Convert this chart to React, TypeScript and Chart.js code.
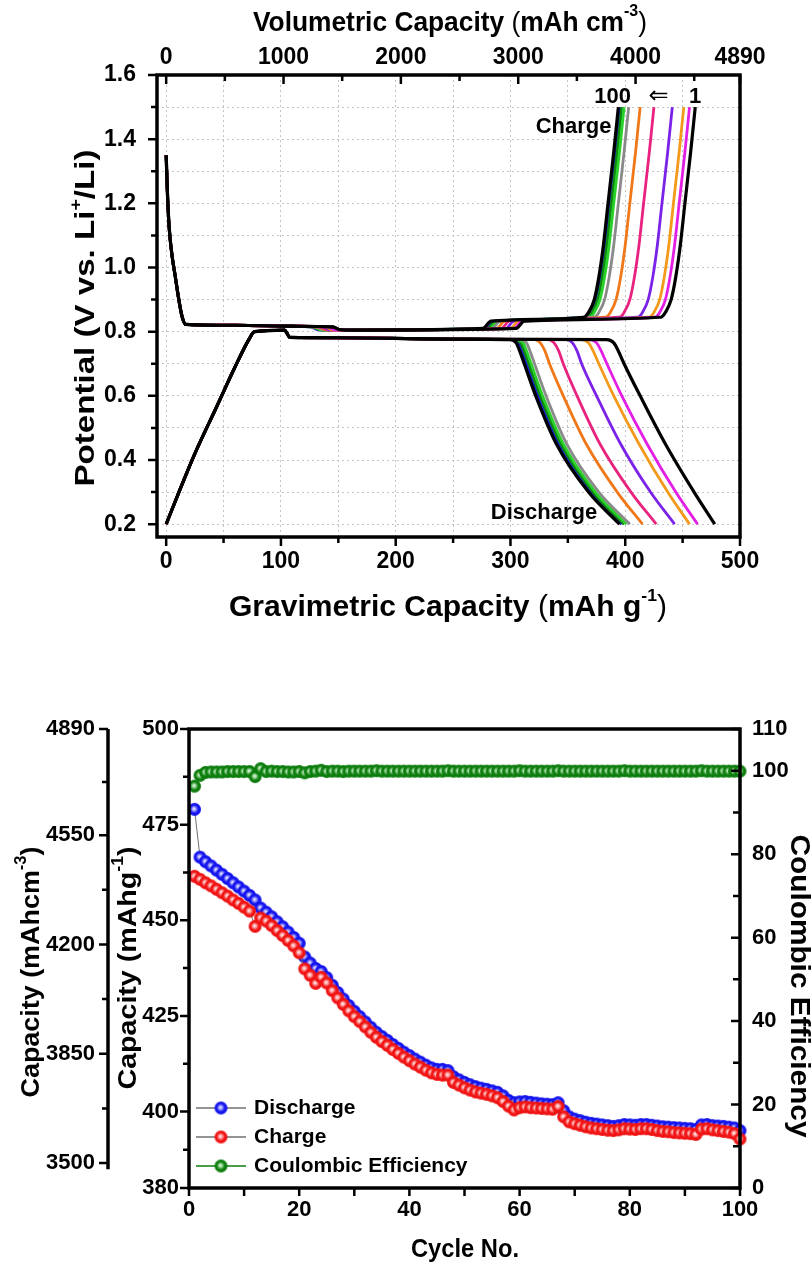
import React, { useEffect, useRef } from 'react';
import { Chart, registerables } from 'chart.js';

Chart.register(...registerables);

const FONT = '"Liberation Sans", Arial, "DejaVu Sans", sans-serif';

/* ================= Top panel: voltage profiles ================= */
const GRAV_MIN = -8;
const GRAV_MAX = 500;
const VOL_MAX = 4890;
const POT_MIN = 0.16;
const POT_MAX = 1.6;

// drawing order: first = on top
const cycleNames = ['1', '100', '2', '5', '10', '20', '30', '40', '50', '60', '70', '80'];
const cycleColors = ['#000000', '#000000', '#e41fe4', '#f39a1c', '#7b22e8', '#e8237f', '#f07818', '#8a8a8a', '#2bd12b', '#0d8a0d', '#1b1bd0', '#c490f2'];

// common start of every discharge curve [capacity mAh/g, potential V]
const dischargeHead = [[0, 0.2], [10, 0.29], [25, 0.42], [44, 0.566], [60, 0.69], [72, 0.775], [77, 0.8], [103, 0.805], [108, 0.782], [150, 0.781], [250, 0.777]];
// potentials at which the discharge tails were read
const dischargeTailV = [0.775, 0.765, 0.74, 0.7, 0.6, 0.45, 0.3, 0.2];
// capacities of each cycle's discharge tail at those potentials
const dischargeTailX = [
  [384, 390, 394, 399, 413, 435, 460, 478],
  [300, 305, 308, 312, 322, 340, 368, 395],
  [369, 375, 379, 384, 397, 419, 444, 463],
  [362, 368, 372, 377, 390, 412, 437, 456],
  [349, 354, 358, 362, 375, 396, 422, 443],
  [333, 338, 342, 346, 358, 378, 405, 427],
  [321, 326, 330, 334, 346, 366, 393, 415],
  [309, 314, 317, 321, 331, 349, 377, 404],
  [306, 311, 314, 318, 328, 346, 374, 401],
  [304, 309, 312, 316, 326, 344, 372, 399],
  [302, 307, 310, 314, 324, 342, 370, 397],
  [301, 306, 309, 313, 323, 341, 369, 396],
];

// common start of every charge curve
const chargeHead = [[0, 1.35], [1, 1.24], [2.5, 1.13], [5, 1.04], [8, 0.97], [11, 0.9], [14, 0.845], [17, 0.823], [60, 0.82], [110, 0.817]];
const chargeMidV = [0.815, 0.806, 0.805, 0.81, 0.833];
const chargeMidX = [
  [145, 152, 170, 305, 312],
  [145, 152, 170, 276, 283],
  [140, 147, 165, 303, 310],
  [138, 145, 163, 300, 307],
  [136, 143, 161, 296, 303],
  [134, 141, 159, 292, 299],
  [132, 139, 157, 288, 295],
  [130, 137, 155, 284, 291],
  [128, 135, 153, 282, 289],
  [127, 134, 152, 280, 287],
  [126, 133, 151, 279, 286],
  [125, 132, 150, 278, 285],
];
const chargeTailV = [0.845, 0.86, 0.9, 0.97, 1.07, 1.2, 1.36, 1.5];
const chargeTailX = [
  [431, 435, 440, 444, 448, 452, 457, 461],
  [364, 368, 373, 377, 381, 385, 390, 394],
  [426, 430, 435, 439, 443, 447, 452, 456],
  [421, 425, 430, 434, 438, 442, 447, 451],
  [411, 415, 420, 424, 428, 432, 437, 441],
  [395, 399, 404, 408, 412, 416, 421, 425],
  [383, 387, 392, 396, 400, 404, 409, 413],
  [373, 377, 382, 386, 390, 394, 399, 403],
  [369, 373, 378, 382, 386, 390, 395, 399],
  [367, 371, 376, 380, 384, 388, 393, 397],
  [366, 370, 375, 379, 383, 387, 392, 396],
  [365, 369, 374, 378, 382, 386, 391, 395],
];

const gravTicks = [0, 50, 100, 150, 200, 250, 300, 350, 400, 450, 500];
const gravLabels = [0, 100, 200, 300, 400, 500];
const volTicks = [0, 500, 1000, 1500, 2000, 2500, 3000, 3500, 4000, 4500, 4890];
const volLabels = [0, 1000, 2000, 3000, 4000, 4890];
const potentialTicks = [0.2, 0.3, 0.4, 0.5, 0.6, 0.7, 0.8, 0.9, 1.0, 1.1, 1.2, 1.3, 1.4, 1.5, 1.6];
const potentialLabels = [0.2, 0.4, 0.6, 0.8, 1.0, 1.2, 1.4, 1.6];

const topNotes = [
  { text: '100', x: 389, y: 1.531, align: 'center', font: `bold 22px ${FONT}` },
  { text: '\u21D0', x: 429, y: 1.531, align: 'center', font: `normal 24px "DejaVu Sans", sans-serif` },
  { text: '1', x: 461, y: 1.531, align: 'center', font: `bold 22px ${FONT}` },
  { text: 'Charge', x: 388, y: 1.438, align: 'right', font: `bold 22px ${FONT}` },
  { text: 'Discharge', x: 375.6, y: 0.235, align: 'right', font: `bold 22px ${FONT}` },
];

/* ================= Bottom panel: cycling ================= */
const cycles = Array.from({ length: 100 }, (_, i) => i + 1);
const dischargeCap = [
  479.0, 466.5, 465.3, 464.2, 463.1, 462.0, 460.9, 459.8, 458.7, 457.6,
  456.5, 455.3, 453.2, 452.1, 450.9, 449.6, 448.3, 446.9, 445.5, 444.0,
  440.4, 438.8, 437.4, 436.6, 435.0, 433.0, 431.1, 429.4, 427.7, 426.2,
  424.8, 423.4, 422.0, 420.7, 419.6, 418.6, 417.5, 416.5, 415.5, 414.6,
  413.7, 412.9, 412.1, 411.4, 411.0, 411.0, 410.7, 409.1, 408.3, 407.6,
  407.0, 406.5, 406.1, 405.8, 405.4, 405.0, 404.1, 402.9, 402.3, 402.5,
  402.6, 402.4, 402.2, 402.0, 401.9, 401.8, 402.3, 400.2, 398.6, 398.0,
  397.6, 397.2, 396.9, 396.7, 396.5, 396.3, 396.1, 396.3, 396.6, 396.5,
  396.4, 396.6, 396.6, 396.4, 396.2, 396.0, 395.9, 395.8, 395.7, 395.6,
  395.5, 395.3, 396.5, 396.6, 396.3, 396.2, 396.1, 395.9, 395.7, 395.0,
];
const chargeCap = [
  461.5, 460.7, 459.8, 459.0, 458.1, 457.2, 456.3, 455.3, 454.4, 453.4,
  452.4, 448.4, 450.6, 449.8, 448.6, 447.3, 446.0, 444.7, 443.3, 441.5,
  437.3, 435.6, 433.5, 435.1, 433.6, 431.6, 429.7, 428.0, 426.3, 424.8,
  423.5, 422.1, 420.7, 419.4, 418.3, 417.3, 416.2, 415.2, 414.2, 413.3,
  412.4, 411.6, 410.8, 410.1, 409.7, 409.5, 409.5, 407.6, 406.9, 406.2,
  405.6, 405.1, 404.8, 404.5, 404.1, 403.6, 402.6, 401.4, 400.4, 401.0,
  401.2, 401.0, 400.9, 400.8, 400.7, 400.6, 401.3, 398.6, 397.3, 396.8,
  396.4, 396.0, 395.7, 395.5, 395.3, 395.1, 395.0, 395.2, 395.5, 395.4,
  395.3, 395.5, 395.5, 395.3, 395.0, 394.8, 394.7, 394.5, 394.4, 394.3,
  394.2, 394.0, 395.4, 395.5, 395.2, 395.0, 394.8, 394.6, 394.2, 392.8,
];
const coulombicEff = [
  96.3, 98.9, 99.6, 99.7, 99.7, 99.7, 99.8, 99.8, 99.8, 99.8,
  99.8, 98.6, 100.5, 99.8, 99.9, 99.8, 99.8, 99.7, 99.7, 99.8,
  99.5, 99.8, 99.9, 100.1, 99.8, 99.9, 99.9, 99.8, 99.9, 99.9,
  99.9, 99.9, 99.9, 100.0, 99.9, 99.9, 99.9, 99.9, 99.9, 99.9,
  99.9, 99.9, 99.9, 99.9, 99.9, 99.9, 100.0, 99.9, 99.9, 99.9,
  99.9, 99.9, 99.9, 99.9, 99.9, 99.9, 99.9, 99.9, 99.9, 100.0,
  99.9, 99.9, 99.9, 99.9, 99.9, 99.9, 100.0, 99.9, 99.9, 99.9,
  99.9, 99.9, 99.9, 99.9, 99.9, 99.9, 99.9, 99.9, 100.0, 99.9,
  99.9, 99.9, 99.9, 99.9, 99.9, 99.9, 99.9, 99.9, 99.9, 99.9,
  99.9, 99.9, 100.0, 99.9, 99.9, 99.9, 99.9, 99.9, 99.9, 99.9,
];

const cycleTicks = [0, 10, 20, 30, 40, 50, 60, 70, 80, 90, 100];
const cycleLabels = [0, 20, 40, 60, 80, 100];
const capTicks = [380, 390, 400, 412.5, 425, 437.5, 450, 462.5, 475, 487.5, 500];
const capLabels = [380, 400, 425, 450, 475, 500];
const volCapTicks = [3500, 3675, 3850, 4025, 4200, 4375, 4550, 4720, 4890];
const volCapLabels = [3500, 3850, 4200, 4550, 4890];
const VOLCAP_MIN = 3420;
const VOLCAP_AXIS_END = 3480;
const ceTicks = [0, 10, 20, 30, 40, 50, 60, 70, 80, 90, 100, 110];
const ceLabels = [0, 20, 40, 60, 80, 100, 110];

/* ================= helpers ================= */
const inList = (list: number[], v: number) => list.some((l) => Math.abs(l - v) < 1e-6);

type Part = { t: string; sup?: boolean; light?: boolean };
function drawRich(ctx: CanvasRenderingContext2D, parts: Part[], cx: number, cy: number, angle: number, size: number, targetLen: number) {
  ctx.save();
  ctx.translate(cx, cy);
  ctx.rotate(angle);
  const fontFor = (p: Part) => `${p.light ? 'normal' : 'bold'} ${p.sup ? Math.round(size * 0.6) : size}px ${FONT}`;
  let w = 0;
  const widths = parts.map((p) => {
    ctx.font = fontFor(p);
    const m = ctx.measureText(p.t).width;
    w += m;
    return m;
  });
  ctx.scale(targetLen / w, 1);
  ctx.textBaseline = 'middle';
  ctx.textAlign = 'left';
  ctx.fillStyle = '#000';
  let x = -w / 2;
  parts.forEach((p, i) => {
    ctx.font = fontFor(p);
    ctx.fillText(p.t, x, p.sup ? -size * 0.4 : 0);
    x += widths[i];
  });
  ctx.restore();
}

function makeSphere(base: string, mid: string, r: number): HTMLCanvasElement {
  const size = Math.ceil(r * 2) + 2;
  const c = document.createElement('canvas');
  c.width = size;
  c.height = size;
  const g = c.getContext('2d')!;
  const cx = size / 2;
  const cy = size / 2;
  const grad = g.createRadialGradient(cx - r * 0.1, cy - r * 0.1, 0, cx, cy, r);
  grad.addColorStop(0, '#ffffff');
  grad.addColorStop(0.28, mid);
  grad.addColorStop(0.62, base);
  grad.addColorStop(1, base);
  g.fillStyle = grad;
  g.beginPath();
  g.arc(cx, cy, r, 0, Math.PI * 2);
  g.fill();
  return c;
}

const tickFont = (size: number) => ({ family: FONT, size, weight: 'bold' as const });

/* ================= configs ================= */
function topConfig(): any {
  const datasets: any[] = [];
  cycleNames.forEach((name, i) => {
    const dis = dischargeHead.concat(dischargeTailX[i].map((x, j) => [x, dischargeTailV[j]]));
    const chg = chargeHead
      .concat(chargeMidX[i].map((x, j) => [x, chargeMidV[j]]))
      .concat(chargeTailX[i].map((x, j) => [x, chargeTailV[j]]));
    const common = {
      borderColor: cycleColors[i],
      borderWidth: cycleColors[i] === '#000000' ? 3.2 : 2.8,
      pointRadius: 0,
      fill: false,
      cubicInterpolationMode: 'monotone',
      xAxisID: 'x',
      yAxisID: 'y',
    };
    datasets.push({ label: `Discharge ${name}`, data: dis.map(([x, y]) => ({ x, y })), ...common });
    datasets.push({ label: `Charge ${name}`, data: chg.map(([x, y]) => ({ x, y })), ...common });
  });

  const decor = {
    id: 'topDecor',
    afterDraw(chart: any) {
      const { ctx, chartArea: a, scales } = chart;
      ctx.save();
      ctx.strokeStyle = '#000';
      ctx.lineWidth = 2.5;
      ctx.beginPath();
      potentialTicks.forEach((v) => {
        const y = scales.y.getPixelForValue(v);
        const l = inList(potentialLabels, v) ? 9 : 6;
        ctx.moveTo(a.left - l, y);
        ctx.lineTo(a.left, y);
      });
      gravTicks.forEach((v) => {
        const x = scales.x.getPixelForValue(v);
        const l = inList(gravLabels, v) ? 9 : 6;
        ctx.moveTo(x, a.bottom);
        ctx.lineTo(x, a.bottom + l);
      });
      volTicks.forEach((v) => {
        const x = scales.x2.getPixelForValue(v);
        const l = inList(volLabels, v) ? 9 : 6;
        ctx.moveTo(x, a.top);
        ctx.lineTo(x, a.top + l);
      });
      ctx.stroke();
      ctx.lineWidth = 3.5;
      ctx.strokeRect(a.left, a.top, a.right - a.left, a.bottom - a.top);

      ctx.fillStyle = '#000';
      ctx.textBaseline = 'middle';
      topNotes.forEach((n) => {
        ctx.font = n.font;
        ctx.textAlign = n.align as CanvasTextAlign;
        ctx.fillText(n.text, scales.x.getPixelForValue(n.x), scales.y.getPixelForValue(n.y));
      });

      drawRich(ctx, [{ t: 'Volumetric Capacity ' }, { t: '(', light: true }, { t: 'mAh cm' }, { t: '-3', sup: true }, { t: ')', light: true }], 450, 23, 0, 28, 394);
      drawRich(ctx, [{ t: 'Gravimetric Capacity ' }, { t: '(', light: true }, { t: 'mAh g' }, { t: '-1', sup: true }, { t: ')', light: true }], 448, 608, 0, 29, 438);
      drawRich(ctx, [{ t: 'Potential (V vs. Li' }, { t: '+', sup: true }, { t: '/Li)' }], 87, 318, -Math.PI / 2, 27, 337);
      ctx.restore();
    },
  };

  const gridOpts = { display: true, drawTicks: false, color: '#c4c4c4', lineWidth: 1 };
  return {
    type: 'line',
    data: { datasets },
    plugins: [decor],
    options: {
      responsive: false,
      animation: false,
      devicePixelRatio: 1,
      layout: { padding: { left: 0, right: 71, top: 0, bottom: 0 } },
      plugins: { legend: { display: false }, tooltip: { enabled: false } },
      scales: {
        x: {
          type: 'linear', position: 'bottom', min: GRAV_MIN, max: GRAV_MAX,
          afterBuildTicks: (s: any) => { s.ticks = gravTicks.map((v) => ({ value: v })); },
          afterFit: (s: any) => { s.height = 113; },
          ticks: { autoSkip: false, maxRotation: 0, padding: 11, color: '#000', font: tickFont(23), callback: (v: number) => (inList(gravLabels, v) ? String(v) : '') },
          grid: gridOpts,
          border: { display: false, dash: [2, 3] },
        },
        x2: {
          type: 'linear', position: 'top', min: (GRAV_MIN * VOL_MAX) / GRAV_MAX, max: VOL_MAX,
          afterBuildTicks: (s: any) => { s.ticks = volTicks.map((v) => ({ value: v })); },
          afterFit: (s: any) => { s.height = 75; },
          ticks: { autoSkip: false, maxRotation: 0, padding: 4, color: '#000', font: tickFont(23), callback: (v: number) => (inList(volLabels, v) ? String(v) : '') },
          grid: { display: false, drawTicks: false },
          border: { display: false },
        },
        y: {
          type: 'linear', position: 'left', min: POT_MIN, max: POT_MAX,
          afterBuildTicks: (s: any) => { s.ticks = potentialTicks.map((v) => ({ value: v })); },
          afterFit: (s: any) => { s.width = 157; },
          ticks: { autoSkip: false, padding: 21, color: '#000', font: tickFont(23), callback: (v: number) => (inList(potentialLabels, v) ? v.toFixed(1) : '') },
          grid: gridOpts,
          border: { display: false, dash: [2, 3] },
        },
      },
    },
  };
}

function bottomConfig(): any {
  const blue = makeSphere('#1414ee', '#9c9cff', 6.5);
  const red = makeSphere('#f01414', '#ffa0a0', 6.5);
  const green = makeSphere('#0d7d0d', '#8fd48f', 6.5);

  const datasets = [
    { label: 'Charge', data: chargeCap, yAxisID: 'y', borderColor: '#707070', borderWidth: 1, pointStyle: red, pointRadius: 6.5, clip: false },
    { label: 'Discharge', data: dischargeCap, yAxisID: 'y', borderColor: '#707070', borderWidth: 1, pointStyle: blue, pointRadius: 6.5, clip: false },
    { label: 'Coulombic Efficiency', data: coulombicEff, yAxisID: 'yCE', borderColor: '#0d7d0d', borderWidth: 1, pointStyle: green, pointRadius: 6.5, clip: false },
  ];
  const legendOrder = ['Discharge', 'Charge', 'Coulombic Efficiency'];
  const legendRows = [448, 477, 506];

  const decor = {
    id: 'bottomDecor',
    afterDraw(chart: any) {
      const { ctx, chartArea: a, scales } = chart;
      ctx.save();
      ctx.strokeStyle = '#000';
      ctx.lineWidth = 2.5;
      ctx.beginPath();
      capTicks.forEach((v) => {
        const y = scales.y.getPixelForValue(v);
        const l = inList(capLabels, v) ? 9 : 6;
        ctx.moveTo(a.left - l, y);
        ctx.lineTo(a.left, y);
      });
      const xo = scales.yVol.right;
      volCapTicks.forEach((v) => {
        const y = scales.yVol.getPixelForValue(v);
        const l = inList(volCapLabels, v) ? 9 : 6;
        ctx.moveTo(xo - l, y);
        ctx.lineTo(xo, y);
      });
      ceTicks.forEach((v) => {
        const y = scales.yCE.getPixelForValue(v);
        const l = inList(ceLabels, v) ? 9 : 7;
        ctx.moveTo(a.right - l, y);
        ctx.lineTo(a.right, y);
      });
      cycleTicks.forEach((v) => {
        const x = scales.x.getPixelForValue(v);
        ctx.moveTo(x, a.bottom);
        ctx.lineTo(x, a.bottom + 8);
      });
      ctx.stroke();
      ctx.lineWidth = 3.5;
      ctx.beginPath();
      ctx.moveTo(xo, scales.yVol.getPixelForValue(VOL_MAX));
      ctx.lineTo(xo, scales.yVol.getPixelForValue(VOLCAP_AXIS_END));
      ctx.stroke();
      ctx.strokeRect(a.left, a.top, a.right - a.left, a.bottom - a.top);

      // legend
      legendOrder.forEach((name, i) => {
        const ds: any = chart.data.datasets.find((d: any) => d.label === name);
        const y = legendRows[i];
        ctx.strokeStyle = ds.borderColor;
        ctx.lineWidth = 1.5;
        ctx.beginPath();
        ctx.moveTo(196, y);
        ctx.lineTo(246, y);
        ctx.stroke();
        const img = ds.pointStyle as HTMLCanvasElement;
        ctx.drawImage(img, 221 - img.width / 2, y - img.height / 2);
        ctx.fillStyle = '#000';
        ctx.font = `bold 21px ${FONT}`;
        ctx.textAlign = 'left';
        ctx.textBaseline = 'middle';
        ctx.fillText(name, 254, y);
      });

      drawRich(ctx, [{ t: 'Cycle No.' }], 465, 590, 0, 25, 108);
      drawRich(ctx, [{ t: 'Capacity (mAhcm' }, { t: '-3', sup: true }, { t: ')' }], 32, 312, -Math.PI / 2, 26, 251);
      drawRich(ctx, [{ t: 'Capacity (mAhg' }, { t: '-1', sup: true }, { t: ')' }], 129, 308, -Math.PI / 2, 26, 243);
      drawRich(ctx, [{ t: 'Coulombic Efficiency' }], 799, 326, Math.PI / 2, 28, 303);
      ctx.restore();
    },
  };

  const noGrid = { display: false, drawTicks: false };
  return {
    type: 'line',
    data: { labels: cycles, datasets },
    plugins: [decor],
    options: {
      responsive: false,
      animation: false,
      devicePixelRatio: 1,
      layout: { padding: { left: 0, right: 0, top: 69, bottom: 0 } },
      plugins: { legend: { display: false }, tooltip: { enabled: false } },
      scales: {
        x: {
          type: 'linear', position: 'bottom', min: 0, max: 100,
          afterBuildTicks: (s: any) => { s.ticks = cycleTicks.map((v) => ({ value: v })); },
          afterFit: (s: any) => { s.height = 92; },
          ticks: { autoSkip: false, maxRotation: 0, padding: 9, color: '#000', font: tickFont(22), callback: (v: number) => (inList(cycleLabels, v) ? String(v) : '') },
          grid: noGrid,
          border: { display: false },
        },
        y: {
          type: 'linear', position: 'left', weight: 0, min: 380, max: 500,
          afterBuildTicks: (s: any) => { s.ticks = capTicks.map((v) => ({ value: v })); },
          afterFit: (s: any) => { s.width = 81; },
          ticks: { autoSkip: false, padding: 10, color: '#000', font: tickFont(22), callback: (v: number) => (inList(capLabels, v) ? String(v) : '') },
          grid: noGrid,
          border: { display: false },
        },
        yVol: {
          type: 'linear', position: 'left', weight: 1, min: VOLCAP_MIN, max: VOL_MAX,
          afterBuildTicks: (s: any) => { s.ticks = volCapTicks.map((v) => ({ value: v })); },
          afterFit: (s: any) => { s.width = 108; },
          ticks: { autoSkip: false, padding: 13, color: '#000', font: tickFont(22), callback: (v: number) => (inList(volCapLabels, v) ? String(v) : '') },
          grid: noGrid,
          border: { display: false },
        },
        yCE: {
          type: 'linear', position: 'right', min: 0, max: 110,
          afterBuildTicks: (s: any) => { s.ticks = ceTicks.map((v) => ({ value: v })); },
          afterFit: (s: any) => { s.width = 71; },
          ticks: { autoSkip: false, padding: 12, color: '#000', font: tickFont(22), callback: (v: number) => (inList(ceLabels, v) ? String(v) : '') },
          grid: noGrid,
          border: { display: false },
        },
      },
    },
  };
}

export default function App() {
  const topRef = useRef<HTMLCanvasElement>(null);
  const botRef = useRef<HTMLCanvasElement>(null);

  useEffect(() => {
    const top = new Chart(topRef.current as HTMLCanvasElement, topConfig());
    const bot = new Chart(botRef.current as HTMLCanvasElement, bottomConfig());
    return () => {
      top.destroy();
      bot.destroy();
    };
  }, []);

  return (
    <div style={{ position: 'absolute', left: 0, top: 0, width: 811, height: 1280, background: '#ffffff' }}>
      <canvas ref={topRef} width={811} height={650} style={{ position: 'absolute', left: 0, top: 0 }} />
      <canvas ref={botRef} width={811} height={620} style={{ position: 'absolute', left: 0, top: 660 }} />
    </div>
  );
}
